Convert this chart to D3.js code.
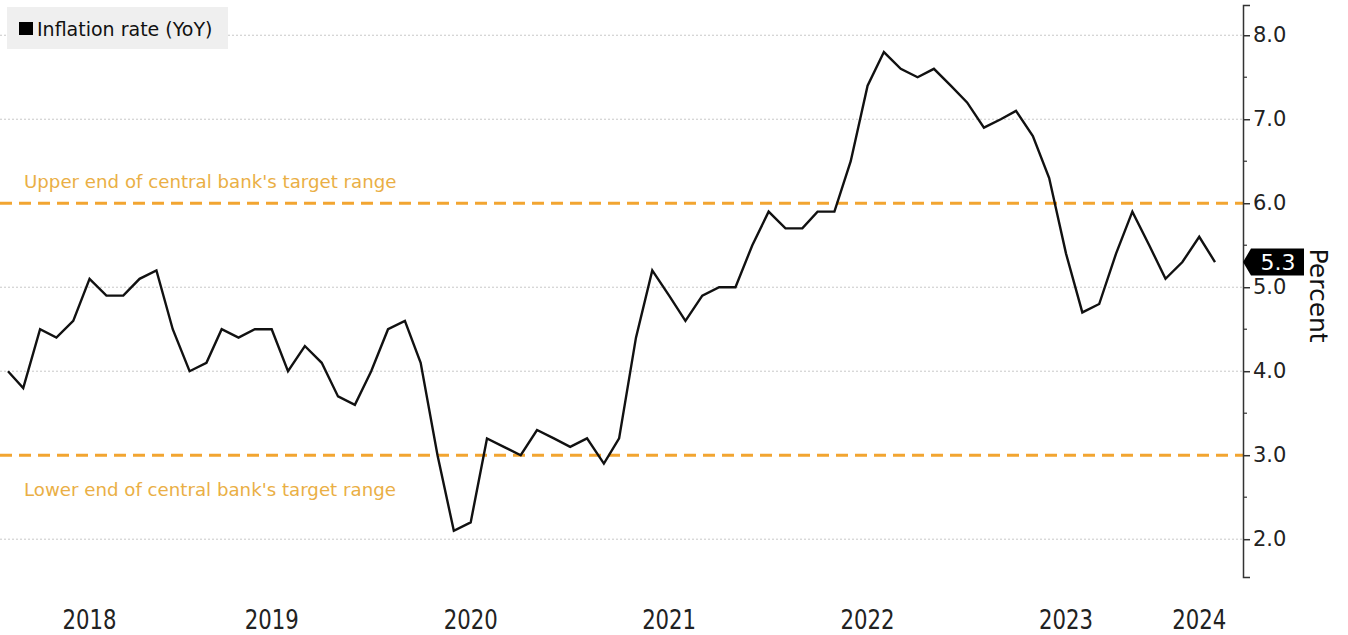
<!DOCTYPE html>
<html>
<head>
<meta charset="utf-8">
<script src="https://cdn.jsdelivr.net/npm/d3@7"></script>
<style>
  body { margin: 0; background: #fff; }
  svg { display: block; }
</style>
</head>
<body>
<div id="chart"></div>
<script>
// monthly YoY inflation, Feb 2018 .. Mar 2024
var startMonth = "2018-02";
var inflation = [
  4.0, 3.8, 4.5, 4.4, 4.6, 5.1, 4.9, 4.9, 5.1, 5.2, 4.5,            // 2018 Feb-Dec
  4.0, 4.1, 4.5, 4.4, 4.5, 4.5, 4.0, 4.3, 4.1, 3.7, 3.6, 4.0,       // 2019
  4.5, 4.6, 4.1, 3.0, 2.1, 2.2, 3.2, 3.1, 3.0, 3.3, 3.2, 3.1,       // 2020
  3.2, 2.9, 3.2, 4.4, 5.2, 4.9, 4.6, 4.9, 5.0, 5.0, 5.5, 5.9,       // 2021
  5.7, 5.7, 5.9, 5.9, 6.5, 7.4, 7.8, 7.6, 7.5, 7.6, 7.4, 7.2,       // 2022
  6.9, 7.0, 7.1, 6.8, 6.3, 5.4, 4.7, 4.8, 5.4, 5.9, 5.5, 5.1,       // 2023
  5.3, 5.6, 5.3                                                     // 2024 Jan-Mar
];
var yearLabels = [2018, 2019, 2020, 2021, 2022, 2023, 2024];
var majorTicks = [2, 3, 4, 5, 6, 7, 8];
var minorTicks = [2.5, 3.5, 4.5, 5.5, 6.5, 7.5];
var targetBands = [
  { value: 6, label: "Upper end of central bank's target range", pos: "above" },
  { value: 3, label: "Lower end of central bank's target range", pos: "below" }
];
var seriesName = "Inflation rate (YoY)";

var W = 1348, H = 635;
var axisX = 1243;
var orange = "#f2a531";

var t0 = d3.timeParse("%Y-%m")(startMonth);
var data = inflation.map(function (v, i) {
  return { date: d3.timeMonth.offset(t0, i), value: v };
});

var x = d3.scaleTime()
  .domain(d3.extent(data, function (d) { return d.date; }))
  .range([8, 1215]);

var y = d3.scaleLinear()
  .domain([1.55, 8.36])
  .range([577, 5]);

var svg = d3.select("#chart").append("svg")
  .attr("width", W)
  .attr("height", H);

// dotted grid (the target lines replace 3 and 6)
svg.append("g").selectAll("line")
  .data(majorTicks.filter(function (v) { return v !== 3 && v !== 6; }))
  .enter().append("line")
  .attr("x1", 0).attr("x2", axisX)
  .attr("y1", function (d) { return y(d); })
  .attr("y2", function (d) { return y(d); })
  .attr("stroke", "#c8c8c8")
  .attr("stroke-width", 1)
  .attr("stroke-dasharray", "2,2");

// target range lines + labels
var bands = svg.append("g");
bands.selectAll("line")
  .data(targetBands)
  .enter().append("line")
  .attr("x1", 0).attr("x2", axisX)
  .attr("y1", function (d) { return y(d.value); })
  .attr("y2", function (d) { return y(d.value); })
  .attr("stroke", orange)
  .attr("stroke-width", 3)
  .attr("stroke-dasharray", "12,7");

bands.selectAll("text")
  .data(targetBands)
  .enter().append("text")
  .attr("x", 24)
  .attr("y", function (d) { return y(d.value) + (d.pos === "above" ? -15 : 41); })
  .attr("fill", "#eaaf45")
  .style("font-family", "DejaVu Sans, Verdana, sans-serif")
  .style("font-size", "18.2px")
  .text(function (d) { return d.label; });

// the series
var line = d3.line()
  .x(function (d) { return x(d.date); })
  .y(function (d) { return y(d.value); });

svg.append("path")
  .datum(data)
  .attr("d", line)
  .attr("fill", "none")
  .attr("stroke", "#111")
  .attr("stroke-width", 2.4)
  .attr("stroke-linejoin", "miter");

// right axis
var yAxis = d3.axisRight(y)
  .tickValues(majorTicks)
  .tickSize(7)
  .tickPadding(3)
  .tickFormat(d3.format(".1f"));

var ax = svg.append("g")
  .attr("transform", "translate(" + axisX + ",0)")
  .call(yAxis);
ax.select(".domain").attr("stroke", "#333").attr("stroke-width", 1.5);
ax.selectAll(".tick line").attr("stroke", "#333").attr("stroke-width", 1.5);
ax.selectAll(".tick text")
  .attr("fill", "#222")
  .style("font-family", "DejaVu Sans, Verdana, sans-serif")
  .style("font-size", "21px");

svg.append("g")
  .attr("transform", "translate(" + axisX + ",0)")
  .selectAll("line")
  .data(minorTicks)
  .enter().append("line")
  .attr("x1", 0).attr("x2", 4)
  .attr("y1", function (d) { return y(d); })
  .attr("y2", function (d) { return y(d); })
  .attr("stroke", "#333")
  .attr("stroke-width", 1.2);

// axis title
svg.append("text")
  .attr("transform", "translate(1310," + y(4.9) + ") rotate(90)")
  .attr("text-anchor", "middle")
  .attr("fill", "#111")
  .style("font-family", "DejaVu Sans, Verdana, sans-serif")
  .style("font-size", "25px")
  .text("Percent");

// last value tag
var last = data[data.length - 1];
var ty = y(last.value);
svg.append("path")
  .attr("d", "M" + axisX + "," + ty +
             "L" + (axisX + 8) + "," + (ty - 13.5) +
             "L" + 1304 + "," + (ty - 13.5) +
             "L" + 1304 + "," + (ty + 13.5) +
             "L" + (axisX + 8) + "," + (ty + 13.5) + "Z")
  .attr("fill", "#000");
svg.append("text")
  .attr("x", 1278)
  .attr("y", ty + 8)
  .attr("text-anchor", "middle")
  .attr("fill", "#fff")
  .style("font-family", "DejaVu Sans, Verdana, sans-serif")
  .style("font-size", "22px")
  .text(d3.format(".1f")(last.value));

// year labels, centred in each year's span of months
var years = svg.append("g");
years.selectAll("text")
  .data(yearLabels)
  .enter().append("text")
  .attr("x", function (yr) {
    var months = data.filter(function (d) { return d.date.getFullYear() === yr; });
    var mid = Math.floor((data.indexOf(months[0]) + data.indexOf(months[months.length - 1])) / 2);
    return x(data[mid].date);
  })
  .attr("y", 629)
  .attr("text-anchor", "middle")
  .attr("fill", "#222")
  .attr("textLength", 54)
  .attr("lengthAdjust", "spacingAndGlyphs")
  .style("font-family", "'DejaVu Sans Condensed', sans-serif")
  .style("font-size", "27px")
  .text(function (d) { return d; });

// legend
var leg = svg.append("g");
leg.append("rect")
  .attr("x", 7).attr("y", 7)
  .attr("width", 221).attr("height", 42)
  .attr("fill", "#efefef");
leg.append("rect")
  .attr("x", 19).attr("y", 22)
  .attr("width", 14).attr("height", 13)
  .attr("fill", "#000");
leg.append("text")
  .attr("x", 37).attr("y", 36)
  .attr("fill", "#111")
  .style("font-family", "DejaVu Sans, Verdana, sans-serif")
  .style("font-size", "19px")
  .text(seriesName);
</script>
</body>
</html>
